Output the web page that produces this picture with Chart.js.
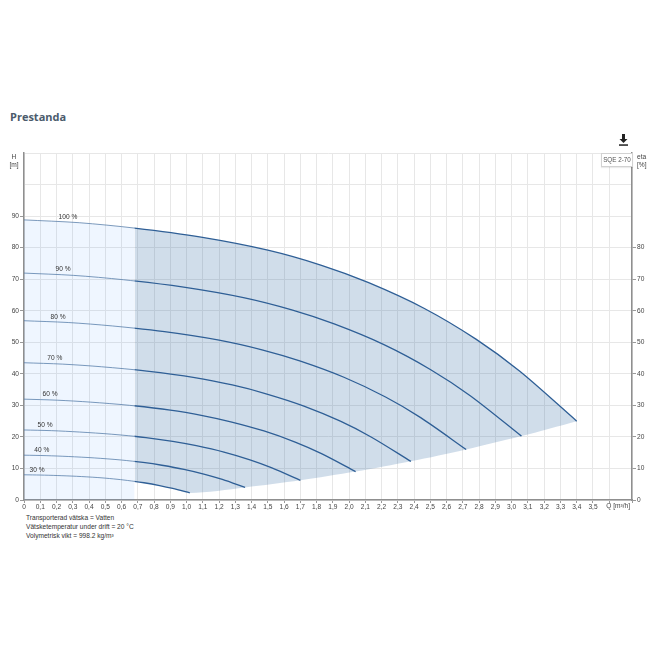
<!DOCTYPE html>
<html>
<head>
<meta charset="utf-8">
<script src="https://cdn.jsdelivr.net/npm/chart.js@4.4.1/dist/chart.umd.min.js"></script>
<style>
  body { margin: 0; background: #fff; width: 660px; height: 660px; position: relative; overflow: hidden; font-family: "Liberation Sans", Arial, sans-serif; }
  #title { position: absolute; left: 10px; top: 109px; font: bold 11px "Open Sans", sans-serif; color: #4b5b6c; }
  #wrap { position: absolute; left: 0; top: 140px; width: 660px; height: 372px; }
  #model { position: absolute; left: 601px; top: 153px; width: 30px; height: 12px; border: 1px solid #d2d2d2; background: #fff; font-size: 6.3px; line-height: 12px; text-align: center; color: #555; box-shadow: 0 1px 1px rgba(0,0,0,0.08); }
  #notes { position: absolute; left: 26px; top: 513px; font-size: 6.6px; line-height: 9px; color: #333; }
  #dl { position: absolute; left: 618px; top: 134px; }
</style>
</head>
<body>
<div id="title">Prestanda</div>
<svg id="dl" width="11" height="12" viewBox="0 0 11 12">
  <path d="M4 0h3v5h2.5L5.5 9 1.5 5H4z" fill="#222"/>
  <rect x="1" y="10.3" width="9" height="1.5" fill="#222"/>
</svg>
<div id="wrap"><canvas id="chart" width="660" height="372"></canvas></div>
<div id="model">SQE 2-70</div>
<div id="notes">
  Transporterad vätska = Vatten<br>
  Vätsketemperatur under drift = 20 °C<br>
  Volymetrisk vikt = 998.2 kg/m³
</div>
<script>
// pump curves Q [m3/h], H [m] per speed
const speedLabels = ['100 %', '90 %', '80 %', '70 %', '60 %', '50 %', '40 %', '30 %'];
const labelQ = [0.27, 0.24, 0.21, 0.19, 0.16, 0.13, 0.11, 0.08];

const curve100 = [[0, 88.8], [0.34, 87.9], [0.68, 86.2], [1.08, 83.4], [1.5, 79.2], [1.83, 74.4], [2.12, 68.9], [2.46, 60.8], [2.78, 51.0], [3.05, 40.8], [3.4, 25.0]];
const curve90 = [[0, 71.93], [0.306, 71.2], [0.612, 69.82], [0.972, 67.55], [1.35, 64.15], [1.647, 60.26], [1.908, 55.81], [2.214, 49.25], [2.502, 41.31], [2.745, 33.05], [3.06, 20.25]];
const curve80 = [[0, 56.83], [0.272, 56.26], [0.544, 55.17], [0.864, 53.38], [1.2, 50.69], [1.464, 47.62], [1.696, 44.1], [1.968, 38.91], [2.224, 32.64], [2.44, 26.11], [2.72, 16.0]];
const curve70 = [[0, 43.51], [0.238, 43.07], [0.476, 42.24], [0.756, 40.87], [1.05, 38.81], [1.281, 36.46], [1.484, 33.76], [1.722, 29.79], [1.946, 24.99], [2.135, 19.99], [2.38, 12.25]];
const curve60 = [[0, 31.97], [0.204, 31.64], [0.408, 31.03], [0.648, 30.02], [0.9, 28.51], [1.098, 26.78], [1.272, 24.8], [1.476, 21.89], [1.668, 18.36], [1.83, 14.69], [2.04, 9.0]];
const curve50 = [[0, 22.2], [0.17, 21.98], [0.34, 21.55], [0.54, 20.85], [0.75, 19.8], [0.915, 18.6], [1.06, 17.23], [1.23, 15.2], [1.39, 12.75], [1.525, 10.2], [1.7, 6.25]];
const curve40 = [[0, 14.21], [0.136, 14.06], [0.272, 13.79], [0.432, 13.34], [0.6, 12.67], [0.732, 11.9], [0.848, 11.02], [0.984, 9.73], [1.112, 8.16], [1.22, 6.53], [1.36, 4.0]];
const curve30 = [[0, 7.99], [0.102, 7.91], [0.204, 7.76], [0.324, 7.51], [0.45, 7.13], [0.549, 6.7], [0.636, 6.2], [0.738, 5.47], [0.834, 4.59], [0.915, 3.67], [1.02, 2.25]];
// end points of the curves = lower edge of the operating range
const lowerEdge = [[1.02, 2.25], [1.36, 4.0], [1.7, 6.25], [2.04, 9.0], [2.38, 12.25], [2.72, 16.0], [3.06, 20.25], [3.4, 25.0]];

const splitQ = 0.68;
const curves = [curve100, curve90, curve80, curve70, curve60, curve50, curve40, curve30];

const pts = arr => arr.map(p => ({ x: p[0], y: p[1] }));
const lightLine = 'rgba(80,120,165,0.75)';
const darkLine = '#2f5f96';

const datasets = [
  {
    data: pts(curve100.filter(p => p[0] <= splitQ)),
    fill: 'origin', backgroundColor: 'rgba(40,140,255,0.075)',
    borderWidth: 0, tension: 0.3, order: 10
  },
  {
    data: pts(curve100.filter(p => p[0] >= splitQ)),
    fill: '+1', backgroundColor: 'rgba(40,100,160,0.22)',
    borderWidth: 0, tension: 0.3, order: 9
  },
  {
    data: pts(curve30.filter(p => p[0] >= 0.6).concat(lowerEdge.slice(1))),
    fill: false, borderWidth: 0, tension: 0.3, order: 9
  }
];

// each curve twice: thin/light left of splitQ, thicker/dark right of it
curves.forEach(c => {
  datasets.push({ data: pts(c), fill: false, tension: 0.3, borderColor: lightLine, borderWidth: 1, side: 'left', order: 1 });
  datasets.push({ data: pts(c), fill: false, tension: 0.3, borderColor: darkLine, borderWidth: 1.3, side: 'right', order: 0 });
});

function valueAt(c, q) {
  for (let i = 1; i < c.length; i++) {
    if (q <= c[i][0]) {
      const t = (q - c[i - 1][0]) / (c[i][0] - c[i - 1][0]);
      return c[i - 1][1] + t * (c[i][1] - c[i - 1][1]);
    }
  }
  return c[c.length - 1][1];
}

const splitClip = {
  id: 'splitClip',
  beforeDatasetDraw(chart, args) {
    const side = chart.data.datasets[args.index].side;
    if (!side) return;
    const { ctx, chartArea: a } = chart;
    const sx = chart.scales.x.getPixelForValue(splitQ);
    ctx.save();
    ctx.beginPath();
    if (side === 'left') ctx.rect(a.left, a.top, sx - a.left, a.bottom - a.top);
    else ctx.rect(sx, a.top, a.right - sx, a.bottom - a.top);
    ctx.clip();
  },
  afterDatasetDraw(chart, args) {
    if (chart.data.datasets[args.index].side) chart.ctx.restore();
  }
};

const textPlugin = {
  id: 'texts',
  afterDatasetsDraw(chart) {
    const { ctx, scales: { x, y } } = chart;
    const area = chart.chartArea;
    ctx.save();
    ctx.fillStyle = '#333';
    ctx.font = '6.6px "Liberation Sans", Arial, sans-serif';
    ctx.textAlign = 'center';
    ctx.textBaseline = 'bottom';
    curves.forEach((c, i) => {
      const q = labelQ[i];
      ctx.fillText(speedLabels[i], x.getPixelForValue(q), y.getPixelForValue(valueAt(c, q)) - 2);
    });
    ctx.fillStyle = '#444';
    ctx.textBaseline = 'middle';
    ctx.fillText('H', 14, area.top + 4);
    ctx.fillText('[m]', 14, area.top + 12);
    ctx.textAlign = 'left';
    ctx.fillText('eta', area.right + 5, area.top + 4);
    ctx.fillText('[%]', area.right + 5, area.top + 12);
    ctx.fillText('Q [m³/h]', x.getPixelForValue(3.6) - 3, area.bottom + 6);
    ctx.restore();
  }
};

const tickFont = { size: 6.6, family: '"Liberation Sans", Arial, sans-serif' };

new Chart(document.getElementById('chart'), {
  type: 'scatter',
  data: { datasets },
  options: {
    responsive: false,
    animation: false,
    devicePixelRatio: 1,
    showLine: true,
    layout: { padding: { top: 13 } },
    elements: { point: { radius: 0, hoverRadius: 0 } },
    plugins: { legend: { display: false }, tooltip: { enabled: false } },
    events: [],
    scales: {
      x: {
        type: 'linear', min: 0, max: 3.74,
        afterFit: s => { s.height = 12; },
        grid: { color: '#e7e7e7', tickLength: 3, tickColor: '#999' },
        border: { color: '#8f8f8f', width: 1.5 },
        ticks: {
          stepSize: 0.1, autoSkip: false, maxRotation: 0, padding: 0,
          color: '#444', font: tickFont,
          callback: v => {
            const r = Math.round(v * 10) / 10;
            if (r > 3.5 + 1e-9) return '';
            return r === 0 ? '0' : r.toFixed(1).replace('.', ',');
          }
        }
      },
      y: {
        position: 'left', min: 0, max: 110,
        afterFit: s => { s.width = 24; },
        grid: { color: '#e7e7e7', tickLength: 4, tickColor: ctx => ctx.tick && ctx.tick.value <= 90 ? '#999' : 'rgba(0,0,0,0)' },
        border: { color: '#8f8f8f', width: 1.5 },
        ticks: { stepSize: 10, padding: 1, color: '#444', font: tickFont, callback: v => v <= 90 ? v : '' }
      },
      y2: {
        position: 'right', min: 0, max: 110,
        afterFit: s => { s.width = 28; },
        grid: { drawOnChartArea: false, tickLength: 4, tickColor: ctx => ctx.tick && ctx.tick.value <= 80 ? '#999' : 'rgba(0,0,0,0)' },
        border: { color: '#8f8f8f', width: 1.5 },
        ticks: { stepSize: 10, padding: 1, color: '#444', font: tickFont, callback: v => v <= 80 ? v : '' }
      }
    }
  },
  plugins: [splitClip, textPlugin]
});
</script>
</body>
</html>
